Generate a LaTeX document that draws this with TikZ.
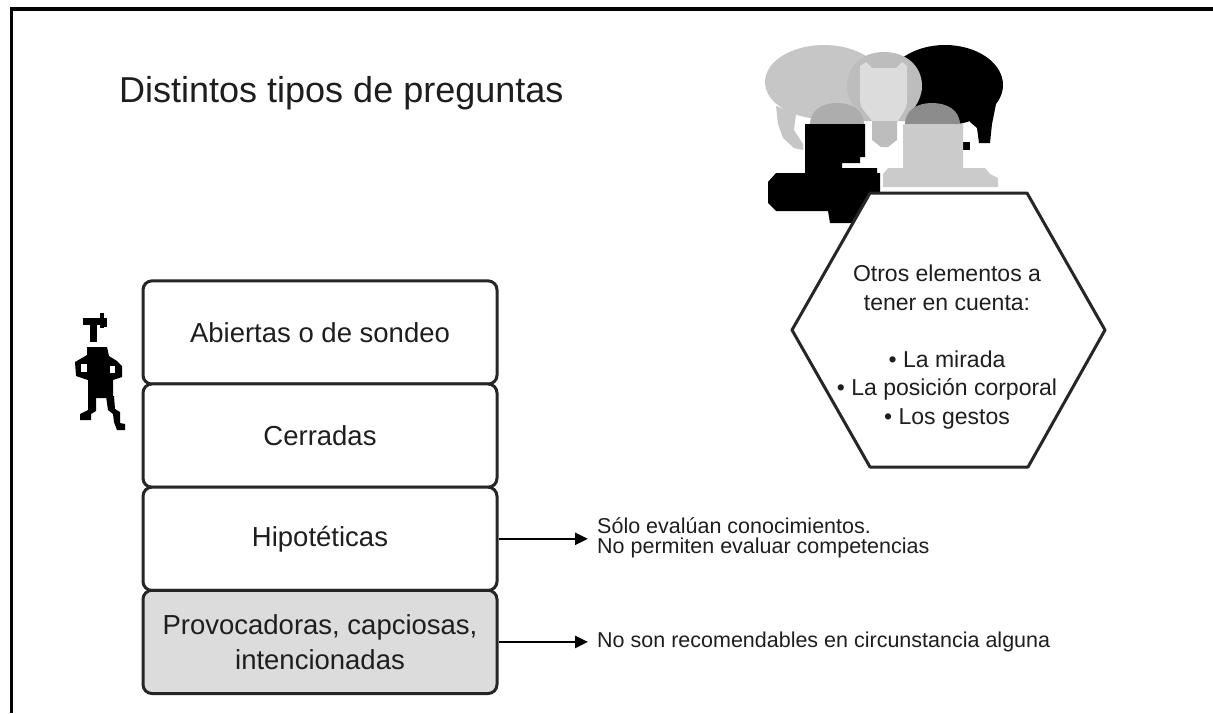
\documentclass[tikz,border=0pt]{standalone}
\usepackage{fontspec}
\setmainfont{Liberation Sans}
\usetikzlibrary{arrows.meta}
\definecolor{ink}{HTML}{1E1E1E}
\definecolor{boxline}{HTML}{262626}
\definecolor{boxshade}{HTML}{DCDCDC}
\definecolor{bubblegray}{HTML}{C6C6C6}
\definecolor{bulbouter}{HTML}{BDBDBD}
\definecolor{bulbinner}{HTML}{DCDCDC}
\definecolor{headlight}{HTML}{ADADAD}
\definecolor{headdark}{HTML}{8C8C8C}
\definecolor{personlight}{HTML}{CBCBCB}
\tikzset{
  frameline/.style={draw=black,line width=3.5pt},
  qbox/.style={draw=boxline,line width=3pt,rounded corners=9pt,
    minimum width=354pt,minimum height=103.3pt,inner sep=0pt,
    text=ink,align=center,font=\fontsize{27.5}{35}\selectfont,fill=white},
  note/.style={anchor=west,inner xsep=9pt,inner ysep=0pt,text=ink,
    align=left,font=\fontsize{21.5}{20}\selectfont},
  conn/.style={draw=black,line width=2.5pt,-{Triangle[length=13pt,width=12pt]}},
  hexline/.style={draw=boxline,line width=3pt,fill=white,line join=round},
  hextext/.style={anchor=north,inner sep=0pt,text=ink,align=center,
    font=\fontsize{23}{28.5}\selectfont},
  titletext/.style={anchor=base west,inner sep=0pt,text=ink,
    font=\fontsize{36}{40}\selectfont}
}
\begin{document}
\begin{tikzpicture}[x=1pt,y=-1pt]
\useasboundingbox (0,0) rectangle (1213,713);
\fill[white] (0,0) rectangle (1213,713);

% page frame (top and left edges)
\draw[frameline] (1213,9) -- (11.5,9) -- (11.5,713);

% title
\node[titletext] (title) at (119,102.7) {Distintos tipos de preguntas};

% ---- clipart: two people talking, with an idea ----
% grey speech bubble
\fill[bubblegray] (824,82) ellipse [x radius=59, y radius=37];
\fill[bubblegray] (776,106) -- (796,114) -- (794,130) -- (803,144) -- (803,150)
  -- (794,148) -- (783,138) -- (778,124) -- cycle;
% black speech bubble
\fill[black] (945,85) ellipse [x radius=58, y radius=40];
\fill[black] (966,110) -- (996,104) -- (992,124) -- (990,143) -- (979,143)
  -- (977,128) -- (970,122) -- cycle;
\fill[black] (963,142) rectangle (970,150);
% light bulb
\fill[bulbouter] (884,52) .. controls (906,52) and (922,66) .. (922,86)
  .. controls (922,102) and (910,112) .. (906,121) -- (897,121) -- (897,140)
  -- (888,147) -- (881,147) -- (872,140) -- (872,121) -- (863,121)
  .. controls (859,112) and (847,102) .. (847,86)
  .. controls (847,66) and (862,52) .. (884,52) -- cycle;
\fill[bulbinner] (860,66) -- (866,62) -- (872,68) -- (896,68) -- (902,62) -- (907,66)
  -- (907,100) .. controls (907,110) and (900,116) .. (898,121) -- (872,121)
  .. controls (870,116) and (860,110) .. (860,100) -- cycle;
% left person (black)
\fill[headlight] (810,125) .. controls (810,110) and (822,103) .. (837,103)
  .. controls (852,103) and (864,110) .. (864,125) -- cycle;
\fill[black] (805,124) -- (865,124) -- (865,157) -- (860,157) -- (860,163)
  -- (842,163) -- (842,168) -- (877,168) -- (877,173) -- (880,173)
  -- (880,223) -- (830,223) -- (828,211) -- (776,211) -- (768,203)
  -- (768,182) -- (776,173) -- (805,173) -- cycle;
% right person (light grey)
\fill[headdark] (905,125) .. controls (905,110) and (917,103) .. (932,103)
  .. controls (947,103) and (960,110) .. (960,125) -- cycle;
\fill[personlight] (903,124) -- (963,124) -- (963,168) -- (985,168) -- (990,174)
  -- (998,178) -- (998,187) -- (883,187) -- (883,174) -- (888,168) -- (903,168) -- cycle;

% ---- hexagon with reminders ----
\coordinate (h1) at (870,193);
\coordinate (h2) at (1027,193);
\coordinate (h3) at (1105,330);
\coordinate (h4) at (1028,467);
\coordinate (h5) at (870,467);
\coordinate (h6) at (792,330);
\draw[hexline] (h1) -- (h2) -- (h3) -- (h4) -- (h5) -- (h6) -- cycle;
\node[hextext] (hex) at (947,265) {Otros elementos a\\tener en cuenta:\\[28.5pt]%
  • La mirada\\• La posición corporal\\• Los gestos};

% ---- little dancing figure ----
\fill[black] (83,318) rectangle (102,325);
\fill[black] (100,313) rectangle (104,328);
\fill[black] (104,318) rectangle (107,327);
\fill[black] (90,325) rectangle (97,342);
\fill[black] (87,347) -- (107,347) -- (109,356) -- (117,361) -- (122,366) -- (122,377)
  -- (113,380) -- (113,398) -- (88,398) -- (88,380) -- (76,376) -- (75,362)
  -- (82,358) -- (87,355) -- cycle;
\fill[white] (81,364) rectangle (87,372);
\fill[white] (110,366) rectangle (115,373);
\fill[black] (88,396) -- (96,396) -- (96,411) -- (91,414) -- (91,420) -- (80,420)
  -- (80,414) -- (88,410) -- cycle;
\fill[black] (106,396) -- (114,396) -- (115,409) -- (120,412) -- (120,423) -- (125,424)
  -- (125,430) -- (117,430) -- (114,422) -- (113,414) -- (108,410) -- cycle;

% ---- stack of question types ----
\node[qbox] (b1) at (320,332.5) {Abiertas o de sondeo};
\node[qbox] (b2) at (320,435.6) {Cerradas};
\node[qbox] (b3) at (320,538.8) {Hipotéticas};
\node[qbox,fill=boxshade] (b4) at (320,641.9) {Provocadoras, capciosas,\\intencionadas};

% ---- remarks ----
\node[note] (t1) at (588,537.5) {Sólo evalúan conocimientos.\\No permiten evaluar competencias};
\node[note] (t2) at (588,641.9) {No son recomendables en circunstancia alguna};
\draw[conn] (b3.east) -- (b3.east -| t1.west);
\draw[conn] (b4.east) -- (b4.east -| t2.west);
\end{tikzpicture}
\end{document}
